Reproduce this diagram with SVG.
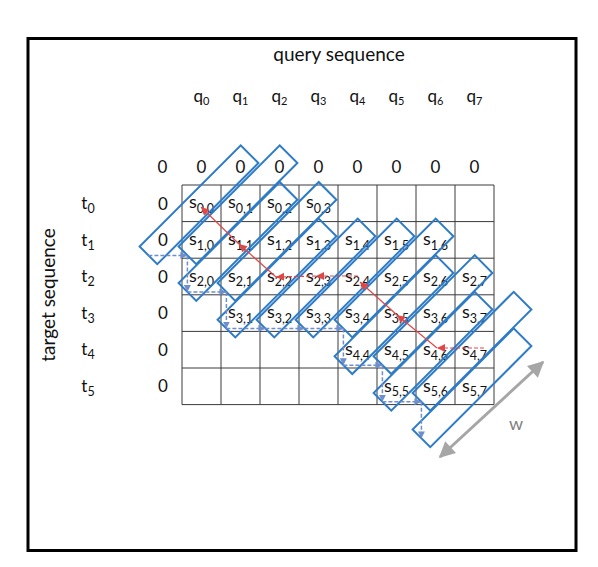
<svg xmlns="http://www.w3.org/2000/svg" xmlns:xlink="http://www.w3.org/1999/xlink" width="598" height="567" viewBox="0 0 598 567">
<style>
text{font-family:Lato,"Liberation Sans",sans-serif;fill:#111}
.title{font-size:19px}
.z{font-size:17px;text-anchor:middle}
.lbl{font-size:17px;text-anchor:middle}
.cell{font-size:18px;text-anchor:middle}
.sub{font-size:11px}
.csub{font-size:12.5px}
.grid line{stroke:#3a3a3a;stroke-width:1}
.band{fill:none;stroke:#2E7BC6;stroke-width:2}
.dpath{stroke:#6F8ECB;stroke-width:1.5;stroke-dasharray:4 2;fill:none}
.red{stroke:#E04848;stroke-width:1.2;fill:none}
.reddash{stroke:#E04848;stroke-width:1.2;stroke-dasharray:4 2;fill:none}
</style>
<defs>
<rect id="bandshape" x="-71.5" y="-12.5" width="143" height="25"/>
<marker id="ab" viewBox="0 0 10 10" refX="10" refY="5" markerWidth="7" markerHeight="7" orient="auto" markerUnits="userSpaceOnUse"><path d="M0,0 L10,5 L0,10 z" fill="#6F8ECB"/></marker>
<marker id="ar" viewBox="0 0 10 10" refX="10" refY="5" markerWidth="9" markerHeight="8" orient="auto" markerUnits="userSpaceOnUse"><path d="M0,0 L10,5 L0,10 z" fill="#E04848"/></marker>
<marker id="ag" viewBox="0 0 10 10" refX="9" refY="5" markerWidth="17" markerHeight="16" orient="auto-start-reverse" markerUnits="userSpaceOnUse"><path d="M0,0 L10,5 L0,10 z" fill="#A6A6A6"/></marker>
</defs>
<rect x="28" y="38.5" width="548" height="512" fill="#fff" stroke="#000" stroke-width="3"/>
<g id="titles">
<text class="title" x="339" y="61" text-anchor="middle">query sequence</text>
<text class="title" transform="translate(55,295) rotate(-90)" text-anchor="middle">target sequence</text>
</g>
<g id="query-labels">
<text class="lbl" x="201.5" y="102">q<tspan class="sub" dy="3">0</tspan></text>
<text class="lbl" x="240.5" y="102">q<tspan class="sub" dy="3">1</tspan></text>
<text class="lbl" x="279.5" y="102">q<tspan class="sub" dy="3">2</tspan></text>
<text class="lbl" x="318.5" y="102">q<tspan class="sub" dy="3">3</tspan></text>
<text class="lbl" x="357.5" y="102">q<tspan class="sub" dy="3">4</tspan></text>
<text class="lbl" x="396.5" y="102">q<tspan class="sub" dy="3">5</tspan></text>
<text class="lbl" x="435.5" y="102">q<tspan class="sub" dy="3">6</tspan></text>
<text class="lbl" x="474.5" y="102">q<tspan class="sub" dy="3">7</tspan></text>
</g>
<g id="target-labels">
<text class="lbl" x="88" y="209">t<tspan class="csub" dy="4">0</tspan></text>
<text class="lbl" x="88" y="245.5">t<tspan class="csub" dy="4">1</tspan></text>
<text class="lbl" x="88" y="282">t<tspan class="csub" dy="4">2</tspan></text>
<text class="lbl" x="88" y="318.5">t<tspan class="csub" dy="4">3</tspan></text>
<text class="lbl" x="88" y="355">t<tspan class="csub" dy="4">4</tspan></text>
<text class="lbl" x="88" y="392">t<tspan class="csub" dy="4">5</tspan></text>
</g>
<g id="zero-row">
<text class="z" x="162.5" y="173">0</text>
<text class="z" x="201.5" y="173">0</text>
<text class="z" x="240.5" y="173">0</text>
<text class="z" x="279.5" y="173">0</text>
<text class="z" x="318.5" y="173">0</text>
<text class="z" x="357.5" y="173">0</text>
<text class="z" x="396.5" y="173">0</text>
<text class="z" x="435.5" y="173">0</text>
<text class="z" x="474.5" y="173">0</text>
</g>
<g id="zero-col">
<text class="z" x="163" y="209.5">0</text>
<text class="z" x="163" y="246">0</text>
<text class="z" x="163" y="282.5">0</text>
<text class="z" x="163" y="319">0</text>
<text class="z" x="163" y="355.5">0</text>
<text class="z" x="163" y="392">0</text>
</g>
<g id="grid" class="grid">
<line x1="182" y1="185" x2="494" y2="185"/>
<line x1="182" y1="221.6" x2="494" y2="221.6"/>
<line x1="182" y1="258.2" x2="494" y2="258.2"/>
<line x1="182" y1="294.8" x2="494" y2="294.8"/>
<line x1="182" y1="331.4" x2="494" y2="331.4"/>
<line x1="182" y1="368" x2="494" y2="368"/>
<line x1="182" y1="404.6" x2="494" y2="404.6"/>
<line x1="182" y1="185" x2="182" y2="404.6"/>
<line x1="221" y1="185" x2="221" y2="404.6"/>
<line x1="260" y1="185" x2="260" y2="404.6"/>
<line x1="299" y1="185" x2="299" y2="404.6"/>
<line x1="338" y1="185" x2="338" y2="404.6"/>
<line x1="377" y1="185" x2="377" y2="404.6"/>
<line x1="416" y1="185" x2="416" y2="404.6"/>
<line x1="455" y1="185" x2="455" y2="404.6"/>
<line x1="494" y1="185" x2="494" y2="404.6"/>
</g>
<g id="cells">
<text class="cell" x="201.5" y="208">s<tspan class="csub" dy="4.5">0,0</tspan></text>
<text class="cell" x="240.5" y="208">s<tspan class="csub" dy="4.5">0,1</tspan></text>
<text class="cell" x="279.5" y="208">s<tspan class="csub" dy="4.5">0,2</tspan></text>
<text class="cell" x="318.5" y="208">s<tspan class="csub" dy="4.5">0,3</tspan></text>
<text class="cell" x="201.5" y="245">s<tspan class="csub" dy="4.5">1,0</tspan></text>
<text class="cell" x="240.5" y="245">s<tspan class="csub" dy="4.5">1,1</tspan></text>
<text class="cell" x="279.5" y="245">s<tspan class="csub" dy="4.5">1,2</tspan></text>
<text class="cell" x="318.5" y="245">s<tspan class="csub" dy="4.5">1,3</tspan></text>
<text class="cell" x="357.5" y="245">s<tspan class="csub" dy="4.5">1,4</tspan></text>
<text class="cell" x="396.5" y="245">s<tspan class="csub" dy="4.5">1,5</tspan></text>
<text class="cell" x="435.5" y="245">s<tspan class="csub" dy="4.5">1,6</tspan></text>
<text class="cell" x="201.5" y="281.5">s<tspan class="csub" dy="4.5">2,0</tspan></text>
<text class="cell" x="240.5" y="281.5">s<tspan class="csub" dy="4.5">2,1</tspan></text>
<text class="cell" x="279.5" y="281.5">s<tspan class="csub" dy="4.5">2,2</tspan></text>
<text class="cell" x="318.5" y="281.5">s<tspan class="csub" dy="4.5">2,3</tspan></text>
<text class="cell" x="357.5" y="281.5">s<tspan class="csub" dy="4.5">2,4</tspan></text>
<text class="cell" x="396.5" y="281.5">s<tspan class="csub" dy="4.5">2,5</tspan></text>
<text class="cell" x="435.5" y="281.5">s<tspan class="csub" dy="4.5">2,6</tspan></text>
<text class="cell" x="474.5" y="281.5">s<tspan class="csub" dy="4.5">2,7</tspan></text>
<text class="cell" x="240.5" y="318">s<tspan class="csub" dy="4.5">3,1</tspan></text>
<text class="cell" x="279.5" y="318">s<tspan class="csub" dy="4.5">3,2</tspan></text>
<text class="cell" x="318.5" y="318">s<tspan class="csub" dy="4.5">3,3</tspan></text>
<text class="cell" x="357.5" y="318">s<tspan class="csub" dy="4.5">3,4</tspan></text>
<text class="cell" x="396.5" y="318">s<tspan class="csub" dy="4.5">3,5</tspan></text>
<text class="cell" x="435.5" y="318">s<tspan class="csub" dy="4.5">3,6</tspan></text>
<text class="cell" x="474.5" y="318">s<tspan class="csub" dy="4.5">3,7</tspan></text>
<text class="cell" x="357.5" y="355">s<tspan class="csub" dy="4.5">4,4</tspan></text>
<text class="cell" x="396.5" y="355">s<tspan class="csub" dy="4.5">4,5</tspan></text>
<text class="cell" x="435.5" y="355">s<tspan class="csub" dy="4.5">4,6</tspan></text>
<text class="cell" x="474.5" y="355">s<tspan class="csub" dy="4.5">4,7</tspan></text>
<text class="cell" x="396.5" y="391.5">s<tspan class="csub" dy="4.5">5,5</tspan></text>
<text class="cell" x="435.5" y="391.5">s<tspan class="csub" dy="4.5">5,6</tspan></text>
<text class="cell" x="474.5" y="391.5">s<tspan class="csub" dy="4.5">5,7</tspan></text>
</g>
<g id="bands">
<g id="band-1"><use xlink:href="#bandshape" href="#bandshape" class="band" transform="translate(199,204.8) rotate(-45)"/></g>
<g id="band-2"><use xlink:href="#bandshape" href="#bandshape" class="band" transform="translate(238,204.8) rotate(-45)"/></g>
<g id="band-3"><use xlink:href="#bandshape" href="#bandshape" class="band" transform="translate(238,241.4) rotate(-45)"/></g>
<g id="band-4"><use xlink:href="#bandshape" href="#bandshape" class="band" transform="translate(277,241.4) rotate(-45)"/></g>
<g id="band-5"><use xlink:href="#bandshape" href="#bandshape" class="band" transform="translate(277,278) rotate(-45)"/></g>
<g id="band-6"><use xlink:href="#bandshape" href="#bandshape" class="band" transform="translate(316,278) rotate(-45)"/></g>
<g id="band-7"><use xlink:href="#bandshape" href="#bandshape" class="band" transform="translate(355,278) rotate(-45)"/></g>
<g id="band-8"><use xlink:href="#bandshape" href="#bandshape" class="band" transform="translate(394,278) rotate(-45)"/></g>
<g id="band-9"><use xlink:href="#bandshape" href="#bandshape" class="band" transform="translate(394,314.6) rotate(-45)"/></g>
<g id="band-10"><use xlink:href="#bandshape" href="#bandshape" class="band" transform="translate(433,314.6) rotate(-45)"/></g>
<g id="band-11"><use xlink:href="#bandshape" href="#bandshape" class="band" transform="translate(433,351.2) rotate(-45)"/></g>
<g id="band-12"><use xlink:href="#bandshape" href="#bandshape" class="band" transform="translate(472,351.2) rotate(-45)"/></g>
<g id="band-13"><use xlink:href="#bandshape" href="#bandshape" class="band" transform="translate(472,387.8) rotate(-45)"/></g>
</g>
<g id="connectors">
<g id="band-moves" class="dpath">
<line x1="148.4" y1="255.4" x2="187.4" y2="255.4" marker-end="url(#ab)"/>
<line x1="187.4" y1="255.4" x2="187.4" y2="292" marker-end="url(#ab)"/>
<line x1="187.4" y1="292" x2="226.4" y2="292" marker-end="url(#ab)"/>
<line x1="226.4" y1="292" x2="226.4" y2="328.6" marker-end="url(#ab)"/>
<line x1="226.4" y1="328.6" x2="265.4" y2="328.6" marker-end="url(#ab)"/>
<line x1="265.4" y1="328.6" x2="304.4" y2="328.6" marker-end="url(#ab)"/>
<line x1="304.4" y1="328.6" x2="343.4" y2="328.6" marker-end="url(#ab)"/>
<line x1="343.4" y1="328.6" x2="343.4" y2="365.2" marker-end="url(#ab)"/>
<line x1="343.4" y1="365.2" x2="382.4" y2="365.2" marker-end="url(#ab)"/>
<line x1="382.4" y1="365.2" x2="382.4" y2="401.8" marker-end="url(#ab)"/>
<line x1="382.4" y1="401.8" x2="421.4" y2="401.8" marker-end="url(#ab)"/>
<line x1="421.4" y1="401.8" x2="421.4" y2="438.4" marker-end="url(#ab)"/>
</g>
<g id="traceback">
<line class="reddash" x1="484" y1="348" x2="437" y2="348" marker-end="url(#ar)"/>
<line class="red" x1="437" y1="348" x2="397" y2="315" marker-end="url(#ar)"/>
<line class="red" x1="397" y1="315" x2="360" y2="282" marker-end="url(#ar)"/>
<line class="reddash" x1="358" y1="276" x2="316" y2="276" marker-end="url(#ar)"/>
<line class="reddash" x1="316" y1="276" x2="276" y2="277" marker-end="url(#ar)"/>
<line class="red" x1="276" y1="277" x2="239" y2="244" marker-end="url(#ar)"/>
<line class="red" x1="239" y1="244" x2="201" y2="207" marker-end="url(#ar)"/>
</g>
<g id="width-arrow">
<line x1="440" y1="457" x2="543" y2="362" stroke="#A6A6A6" stroke-width="3" marker-start="url(#ag)" marker-end="url(#ag)"/>
</g>
</g>
<g id="w-label"><text x="516" y="430" font-size="18" text-anchor="middle" style="fill:#808080">w</text></g>
</svg>
